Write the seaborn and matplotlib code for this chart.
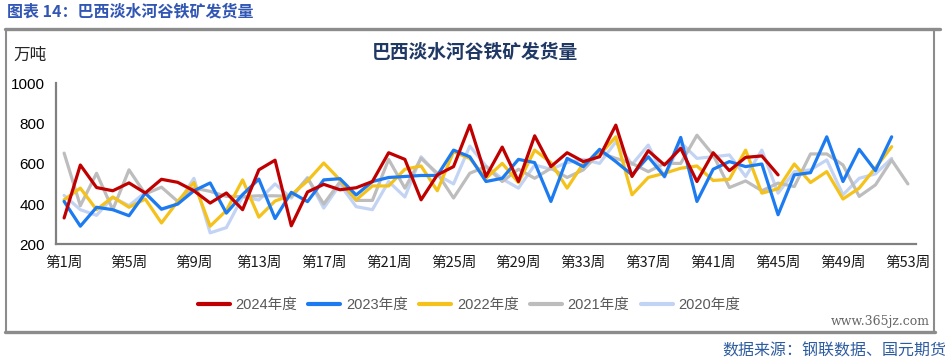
import numpy as np
import pandas as pd
import matplotlib
matplotlib.use('Agg')
import matplotlib.pyplot as plt
import seaborn as sns
from matplotlib.lines import Line2D

weeks = list(range(1, 54))
tick_weeks = list(range(1, 54, 4))
tick_labels = [f"第{w}周" for w in tick_weeks]

N = None
y2024 = [331, 594, 482, 466, 505, 455, 523, 508, 466, 405, 455, 372, 570, 618, 292,
         460, 498, 471, 481, 512, 655, 622, 421, 545, 586, 792, 537, 683, 512, 739,
         586, 655, 611, 635, 792, 537, 665, 594, 677, 512, 655, 566, 632, 639, 545,
         N, N, N, N, N, N, N, N]
y2023 = [413, 290, 384, 372, 342, 454, 375, 400, 466, 505, 355, 447, 524, 328, 458,
         412, 520, 526, 445, 512, 532, 537, 542, 542, 668, 635, 512, 528, 622, 606,
         413, 627, 586, 672, 611, 545, 635, 537, 731, 413, 573, 611, 586, 599, 347,
         545, 556, 734, 512, 672, 566, 734, N]
y2022 = [421, 479, 372, 435, 384, 425, 306, 413, 507, 290, 368, 520, 335, 415, 445,
         515, 604, 520, 421, 490, 490, 573, 589, 466, 660, 627, 528, 602, 507, 668,
         606, 479, 602, 644, 734, 446, 532, 553, 578, 589, 517, 523, 668, 454, 476,
         599, 507, 561, 425, 479, 580, 685, N]
y2021 = [653, 392, 553, 372, 570, 450, 484, 413, 480, 463, 438, 437, 441, 441, 438,
         528, 400, 510, 418, 418, 622, 479, 627, 553, 430, 553, 586, 512, 573, 528,
         578, 532, 570, 655, 627, 602, 561, 602, 602, 742, 644, 482, 515, 466, 504,
         487, 649, 649, 594, 438, 495, 619, 500]
y2020 = [443, 372, 344, 433, 392, 458, 372, 400, 528, 257, 283, 436, 420, 500, 430,
         532, 380, 497, 387, 372, 512, 435, 635, 545, 500, 688, 589, 525, 479, 594,
         573, 606, 622, 602, 709, 597, 693, 533, 706, 627, 635, 644, 537, 668, 454,
         561, 570, 619, 446, 528, 550, 627, N]

series = {"2024年度": y2024, "2023年度": y2023, "2022年度": y2022,
          "2021年度": y2021, "2020年度": y2020}
colors = {"2024年度": "#C00000", "2023年度": "#1C7BF0", "2022年度": "#F5C21B",
          "2021年度": "#BDBDBD", "2020年度": "#C3D3F3"}
legend_order = ["2024年度", "2023年度", "2022年度", "2021年度", "2020年度"]
draw_order = legend_order[::-1]

rows = []
for name, vals in series.items():
    for w, v in zip(weeks, vals):
        if v is not None:
            rows.append({"week": w, "value": v, "year": name})
df = pd.DataFrame(rows)

sns.set_theme(style="white")
plt.rcParams['font.family'] = ['Liberation Sans', 'Noto Sans CJK SC', 'DejaVu Sans']

W, H = 948, 360
fig = plt.figure(figsize=(W / 100, H / 100), dpi=100)
fig.patch.set_facecolor('white')
ax = fig.add_axes([56 / W, 1 - 244.3 / H, 860 / W, (244.3 - 83.3) / H])

sns.lineplot(data=df, x="week", y="value", hue="year", hue_order=draw_order,
             palette=colors, linewidth=2.3, ax=ax, legend=False,
             estimator=None, sort=True)

ax.set_xlim(0.5, 53.5)
ax.set_ylim(200, 1000)
ax.set_xlabel("")
ax.set_ylabel("")
ax.set_xticks(np.arange(0.5, 54, 1), minor=True)
ax.set_xticks(tick_weeks)
ax.set_xticklabels(tick_labels, fontsize=10.5, color='#1a1a1a',
                   family=['Noto Sans CJK SC', 'DejaVu Sans'])
ax.tick_params(axis='x', which='major', length=0, pad=8)
ax.tick_params(axis='x', which='minor', length=4.5, width=1.5, color='#808080',
               direction='out')
ax.set_yticks([200, 400, 600, 800, 1000])
ax.tick_params(axis='y', which='major', length=5, width=1.5, color='#808080',
               direction='out', labelsize=11, labelcolor='#000000', pad=3)
for s in ['top', 'right']:
    ax.spines[s].set_visible(False)
for s in ['left', 'bottom']:
    ax.spines[s].set_color('#808080')
    ax.spines[s].set_linewidth(1.6)
ax.grid(False)

# frame lines
def fl(x0, y0, x1, y1, lw, c='#8C8C8C'):
    fig.add_artist(Line2D([x0 / W, x1 / W], [1 - y0 / H, 1 - y1 / H],
                          transform=fig.transFigure, color=c, linewidth=lw))

fl(5, 29, 940, 29, 2.4)
fl(6, 29, 6, 332, 1.5)
fl(934, 29, 934, 332, 1.5)
fl(5, 332, 935, 332, 2.4)

fig.text(7 / W, 1 - 11 / H, "图表 14：巴西淡水河谷铁矿发货量", fontsize=11.5,
         fontweight='bold', color='#3156B4', va='center', ha='left',
         family=['Noto Sans CJK SC', 'DejaVu Sans'])
fig.text(475 / W, 1 - 52 / H, "巴西淡水河谷铁矿发货量", fontsize=13.5,
         fontweight='bold', color='#1F3864', va='center', ha='center',
         family=['Noto Sans CJK SC', 'DejaVu Sans'])
fig.text(13 / W, 1 - 55 / H, "万吨", fontsize=12, color='#262626',
         va='center', ha='left', family=['Noto Sans CJK SC', 'DejaVu Sans'])
fig.text(946 / W, 1 - 351 / H, "数据来源：钢联数据、国元期货", fontsize=11.5,
         color='#2E5CA0', va='center', ha='right',
         family=['Noto Sans CJK SC', 'DejaVu Sans'])
fig.text(880 / W, 1 - 322 / H, "www.365jz.com", fontsize=9, color='#333333',
         alpha=0.75, va='center', ha='center', family=['DejaVu Serif'])

handles = [Line2D([0], [0], color=colors[n], linewidth=3) for n in legend_order]
fig.legend(handles, legend_order, ncol=5, loc='center',
           bbox_to_anchor=(469 / W, 1 - 305 / H), frameon=False,
           prop={'family': ['Liberation Sans', 'Noto Sans CJK SC'], 'size': 10.5},
           labelcolor='#595959', handlelength=2.2, handletextpad=0.4,
           columnspacing=0.75)

fig.savefig("out.png", dpi=100, facecolor='white')
